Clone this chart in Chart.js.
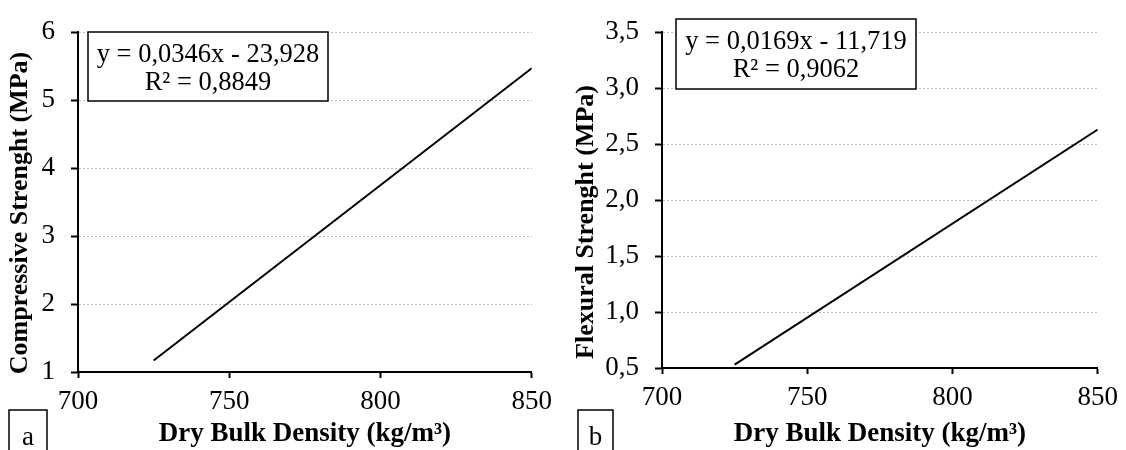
<!DOCTYPE html>
<html>
<head>
<meta charset="utf-8">
<script src="https://cdn.jsdelivr.net/npm/chart.js@4.4.1/dist/chart.umd.min.js"></script>
<style>
  html, body { margin: 0; padding: 0; background: #fff; }
  #wrap { position: relative; width: 1126px; height: 450px; }
  canvas { position: absolute; top: 0; }
</style>
</head>
<body>
<div id="wrap">
  <canvas id="chartA" width="560" height="450" style="left:0"></canvas>
  <canvas id="chartB" width="566" height="450" style="left:560px"></canvas>
</div>
<script>
// trend lines (end points)
const densityA = [725, 850];
const compressive = [1.17, 5.47];
const densityB = [725, 850];
const flexural = [0.53, 2.63];

// tick labels
const xTicks = ['700', '750', '800', '850'];
const yTicksA = ['1', '2', '3', '4', '5', '6'];
const yTicksB = ['0,5', '1,0', '1,5', '2,0', '2,5', '3,0', '3,5'];

// texts
const xTitle = 'Dry Bulk Density (kg/m³)';
const yTitleA = 'Compressive Strenght (MPa)';
const yTitleB = 'Flexural Strenght (MPa)';
const equationA = ['y = 0,0346x - 23,928', 'R² = 0,8849'];
const equationB = ['y = 0,0169x - 11,719', 'R² = 0,9062'];

const serif = "'Liberation Serif', 'Times New Roman', serif";

// draws the equation box, the panel letter and the y title
const annotate = {
  id: 'annotate',
  afterDraw(chart, args, o) {
    const ctx = chart.ctx;
    ctx.save();
    ctx.fillStyle = '#fff';
    ctx.fillRect(o.box.x, o.box.y, o.box.w, o.box.h);
    ctx.strokeStyle = '#000';
    ctx.lineWidth = 1.5;
    ctx.strokeRect(o.box.x, o.box.y, o.box.w, o.box.h);
    ctx.fillStyle = '#000';
    ctx.font = '26.5px ' + serif;
    ctx.textAlign = 'center';
    ctx.textBaseline = 'middle';
    const cx = o.box.x + o.box.w / 2;
    ctx.fillText(o.equation[0], cx, o.box.y + 23);
    ctx.fillText(o.equation[1], cx, o.box.y + 51);

    // panel letter
    ctx.strokeRect(o.letter.x, o.letter.y, o.letter.w, 60);
    ctx.font = '27px ' + serif;
    ctx.textBaseline = 'alphabetic';
    ctx.fillText(o.letter.text, o.letter.x + o.letter.w / 2, 445);

    // y axis title
    ctx.translate(o.yTitle.x, o.yTitle.y);
    ctx.rotate(-Math.PI / 2);
    ctx.font = 'bold 26px ' + serif;
    ctx.textBaseline = 'middle';
    ctx.fillText(o.yTitle.text, 0, 0);
    ctx.restore();
  }
};

function makeChart(id, cfg) {
  return new Chart(document.getElementById(id), {
    type: 'scatter',
    data: {
      datasets: [{
        data: cfg.xs.map((x, i) => ({ x: x, y: cfg.ys[i] })),
        showLine: true,
        borderColor: '#000',
        borderWidth: 2,
        pointRadius: 0
      }]
    },
    options: {
      responsive: false,
      animation: false,
      events: [],
      layout: { padding: { left: 0, top: 20, right: cfg.rightPad, bottom: 0 } },
      plugins: {
        legend: { display: false },
        tooltip: { enabled: false },
        annotate: cfg.notes
      },
      scales: {
        x: {
          type: 'linear',
          min: 700,
          max: 850,
          ticks: {
            stepSize: 50,
            maxRotation: 0,
            padding: 8,
            color: '#000',
            font: { family: serif, size: 27 },
            callback: (v, i) => xTicks[i]
          },
          grid: { drawOnChartArea: false, tickLength: 6, tickColor: '#000', tickWidth: 2, color: '#000' },
          border: { color: '#000', width: 2 },
          title: {
            display: true,
            text: xTitle,
            color: '#000',
            padding: 0,
            font: { family: serif, size: 27, weight: 'bold' }
          },
          afterFit: s => { s.height = cfg.xHeight; }
        },
        y: {
          min: cfg.yMin,
          max: cfg.yMax,
          ticks: {
            stepSize: cfg.yStep,
            padding: 16,
            color: '#000',
            font: { family: serif, size: 27 },
            callback: (v, i) => cfg.yLabels[i]
          },
          grid: {
            color: c => (c.tick && c.tick.value === cfg.yMin) ? 'rgba(0,0,0,0)' : '#bdbdbd',
            lineWidth: 1,
            tickLength: 7,
            tickColor: '#000',
            tickWidth: 2
          },
          border: { color: '#000', width: 2, dash: [2, 2] },
          afterFit: s => { s.width = cfg.yWidth; }
        }
      }
    },
    plugins: [annotate]
  });
}

makeChart('chartA', {
  xs: densityA, ys: compressive,
  yMin: 1, yMax: 6, yStep: 1, yLabels: yTicksA,
  yWidth: 78, xHeight: 78, rightPad: 28,
  notes: {
    equation: equationA,
    box: { x: 88, y: 32, w: 240, h: 69 },
    letter: { x: 9, y: 410, w: 38, text: 'a' },
    yTitle: { x: 20, y: 213, text: yTitleA }
  }
});

makeChart('chartB', {
  xs: densityB, ys: flexural,
  yMin: 0.5, yMax: 3.5, yStep: 0.5, yLabels: yTicksB,
  yWidth: 102, xHeight: 82, rightPad: 28,
  notes: {
    equation: equationB,
    box: { x: 116, y: 19, w: 240, h: 70 },
    letter: { x: 18, y: 410, w: 35, text: 'b' },
    yTitle: { x: 26, y: 222, text: yTitleB }
  }
});
</script>
</body>
</html>
